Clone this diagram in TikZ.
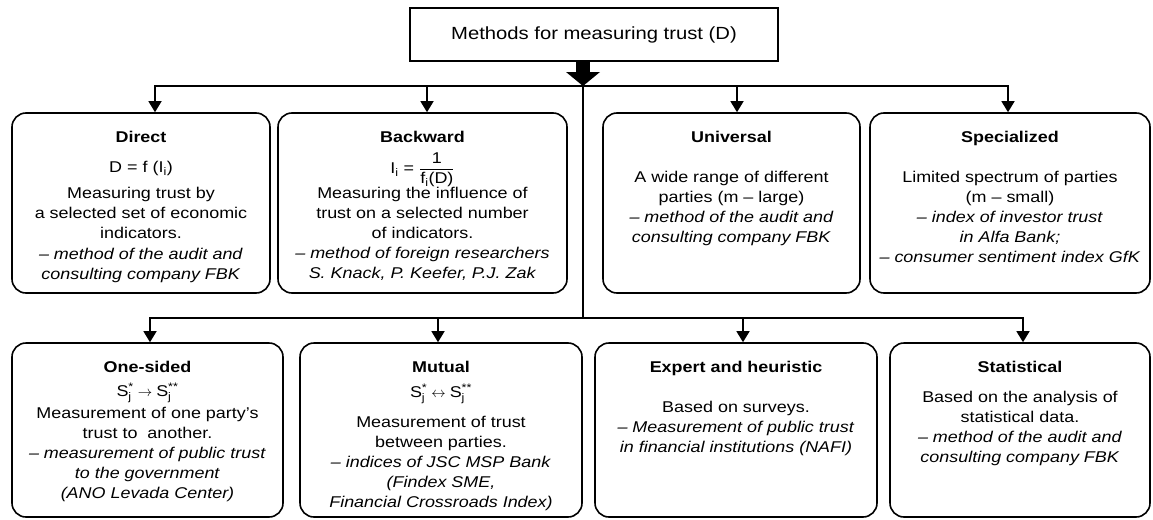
\documentclass[tikz,border=0pt]{standalone}
\usepackage{amsmath}
\usepackage{fontspec}
\setmainfont{Liberation Sans}[FakeStretch=1.15]
\usetikzlibrary{arrows.meta,positioning}

\begin{document}
\begin{tikzpicture}[x=1pt, y=1pt, >={Triangle[width=13pt,length=11pt]},
  card/.style={draw, line width=1.6pt, rounded corners=14pt},
  cardtext/.style={align=center, inner sep=0pt, font=\fontsize{15.6}{20}\selectfont},
  bus/.style={line width=1.4pt}]
  \useasboundingbox (0,0) rectangle (1153,-519);
  % heading
  \node[draw, line width=1.5pt, minimum width=368pt, minimum height=53pt,
        font=\fontsize{17.6}{21}\selectfont] (title) at (594,-34.5) {Methods for measuring trust (D)};
  % boxes, upper row
  \node[card, minimum width=258pt, minimum height=180pt] (direct) at (141,-203) {};
  \node[card, minimum width=289pt, minimum height=180pt] (backward) at (422.5,-203) {};
  \node[card, minimum width=257pt, minimum height=180pt] (universal) at (731.5,-203) {};
  \node[card, minimum width=280pt, minimum height=180pt] (special) at (1010,-203) {};
  % boxes, lower row
  \node[card, minimum width=271pt, minimum height=174pt] (onesided) at (147.5,-430) {};
  \node[card, minimum width=282pt, minimum height=174pt] (mutual) at (441,-430) {};
  \node[card, minimum width=282pt, minimum height=174pt] (expert) at (736,-430) {};
  \node[card, minimum width=260pt, minimum height=174pt] (stat) at (1020,-430) {};
  % texts
  \node[cardtext, below=19pt of direct.north] (directtxt) {\textbf{Direct}\\[10pt]
    D = f (I$_{\text{i}}$)\\[6pt]
    Measuring trust by\\ a selected set of economic\\ indicators.\\[1pt]
    \textit{-- method of the audit and}\\ \textit{consulting company FBK}};
  \node[cardtext, below=19pt of backward.north] (backwardtxt) {\textbf{Backward}\\[9pt]
    $\text{I}_{\text{i}}\text{ = }\dfrac{\text{1}}{\text{f}_{\text{i}}\text{(D)}}$\\
    Measuring the influence of\\ trust on a selected number\\ of indicators.\\
    \textit{-- method of foreign researchers}\\ \textit{S. Knack, P. Keefer, P.J. Zak}};
  \node[cardtext, below=19pt of universal.north] (universaltxt) {\textbf{Universal}\\[20pt]
    A wide range of different\\ parties (m -- large)\\
    \textit{-- method of the audit and}\\ \textit{consulting company FBK}};
  \node[cardtext, below=19pt of special.north] (specialtxt) {\textbf{Specialized}\\[20pt]
    Limited spectrum of parties\\ (m -- small)\\
    \textit{-- index of investor trust}\\ \textit{in Alfa Bank;}\\
    \textit{-- consumer sentiment index GfK}};
  \node[cardtext, below=19pt of onesided.north] (onesidedtxt) {\textbf{One-sided}\\[4pt]
    $\text{S}^{\text{*}}_{\text{j}}\rightarrow\text{S}^{\text{**}}_{\text{j}}$\\[2pt]
    Measurement of one party's\\ trust to\ \ another.\\
    \textit{-- measurement of public trust}\\ \textit{to the government}\\
    \textit{(ANO Levada Center)}};
  \node[cardtext, below=19pt of mutual.north] (mutualtxt) {\textbf{Mutual}\\[5pt]
    $\text{S}^{\text{*}}_{\text{j}}\leftrightarrow\text{S}^{\text{**}}_{\text{j}}$\\[10pt]
    Measurement of trust\\ between parties.\\
    \textit{-- indices of JSC MSP Bank}\\ \textit{(Findex SME,}\\
    \textit{Financial Crossroads Index)}};
  \node[cardtext, below=19pt of expert.north] (experttxt) {\textbf{Expert and heuristic}\\[20pt]
    Based on surveys.\\ \textit{-- Measurement of public trust}\\
    \textit{in financial institutions (NAFI)}};
  \node[cardtext, below=19pt of stat.north] (stattxt) {\textbf{Statistical}\\[10pt]
    Based on the analysis of\\ statistical data.\\
    \textit{-- method of the audit and}\\ \textit{consulting company FBK}};
  % bus lines
  \coordinate (top) at (583,-86);
  \coordinate (low) at (583,-318);
  \coordinate (d) at (155,-86);
  \coordinate (b) at (427,-86);
  \coordinate (u) at (737,-86);
  \coordinate (s) at (1008,-86);
  \coordinate (o) at (150,-318);
  \coordinate (m) at (438,-318);
  \coordinate (e) at (743,-318);
  \coordinate (t) at (1023,-318);
  \draw[line width=14pt, -{Triangle[width=34pt,length=14pt,line width=0pt]}] (title.south -| top) -- (top);
  \draw[bus,->] (top) -| (d |- direct.north);
  \draw[bus,->] (top) -| (s |- special.north);
  \draw[bus,->] (b) -- (b |- backward.north);
  \draw[bus,->] (u) -- (u |- universal.north);
  \draw[bus] (top) -- (low);
  \draw[bus,->] (low) -| (o |- onesided.north);
  \draw[bus,->] (low) -| (t |- stat.north);
  \draw[bus,->] (m) -- (m |- mutual.north);
  \draw[bus,->] (e) -- (e |- expert.north);
\end{tikzpicture}
\end{document}
